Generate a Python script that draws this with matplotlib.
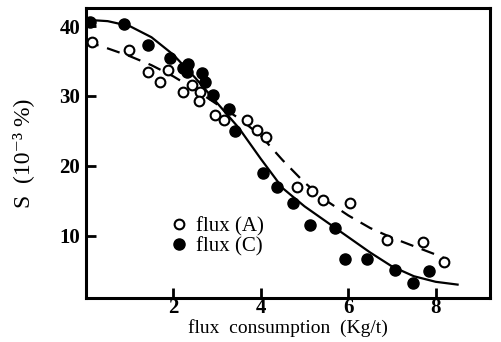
import numpy as np
import matplotlib
matplotlib.use("Agg")
import matplotlib.pyplot as plt
from matplotlib.lines import Line2D

# flux (A) measured points - open circles
xa = [0.14, 0.98, 1.42, 1.69, 1.88, 2.22, 2.43, 2.61, 2.59, 2.95, 3.16, 3.68, 3.91, 4.12,
      4.83, 5.17, 5.42, 6.04, 6.89, 7.70, 8.20]
ya = [37.7, 36.6, 33.4, 32.0, 33.7, 30.6, 31.6, 30.6, 29.3, 27.3, 26.6, 26.6, 25.1, 24.1,
      17.0, 16.4, 15.1, 14.7, 9.4, 9.1, 6.3]

# flux (C) measured points - filled circles
xc = [0.09, 0.87, 1.42, 1.92, 2.22, 2.33, 2.31, 2.65, 2.72, 2.91, 3.27, 3.41, 4.05, 4.37,
      4.74, 5.13, 5.70, 5.93, 6.43, 7.07, 7.48, 7.85]
yc = [40.6, 40.3, 37.3, 35.4, 34.0, 34.6, 33.4, 33.3, 32.0, 30.1, 28.1, 25.0, 19.0, 17.0,
      14.7, 11.6, 11.1, 6.6, 6.7, 5.1, 3.3, 4.9]

# fitted curves
fit_c_x = [0, 0.5, 1.0, 1.5, 2.0, 2.5, 3.0, 3.5, 4.0, 4.5, 5.0, 5.5, 6.0, 6.5, 7.0, 7.5, 8.0, 8.5]
fit_c_y = [40.9, 40.7, 40.0, 38.4, 35.9, 32.6, 29.0, 25.4, 21.0, 16.8, 14.2, 12.0, 9.8, 7.6,
           5.6, 4.2, 3.4, 3.0]
fit_a_x = [0, 0.5, 1.0, 1.5, 2.0, 2.5, 3.0, 3.5, 4.0, 4.5, 5.0, 5.5, 6.0, 6.5, 7.0, 7.5, 8.0, 8.2]
fit_a_y = [37.8, 36.8, 35.7, 34.4, 32.8, 30.9, 28.8, 26.8, 24.3, 20.8, 17.6, 15.0, 12.9, 11.1,
           9.7, 8.5, 7.3, 6.8]

xticks = [2, 4, 6, 8]
yticks = [10, 20, 30, 40]

serif = ['Liberation Serif', 'DejaVu Serif']

fig = plt.figure(figsize=(5.02, 3.42), dpi=100)
ax = fig.add_axes([0.171, 0.129, 0.805, 0.848])

ax.plot(fit_c_x, fit_c_y, '-', color='black', lw=1.6)
ax.plot(fit_a_x, fit_a_y, color='black', lw=1.6, dashes=(6, 4))
ax.plot(xa, ya, 'o', mfc='white', mec='black', mew=1.5, ms=7)
ax.plot(xc, yc, 'o', color='black', ms=8)

ax.set_xlim(0, 9.24)
ax.set_ylim(1.1, 42.6)
ax.set_xticks(xticks)
ax.set_yticks(yticks)
ax.tick_params(direction='in', length=7, width=2)
ax.tick_params(axis='x', pad=0)
ax.tick_params(axis='y', pad=4)
for lab in ax.get_xticklabels() + ax.get_yticklabels():
    lab.set_family(serif)
    lab.set_fontweight('bold')
    lab.set_fontsize(15)
for s in ax.spines.values():
    s.set_linewidth(2.2)

ax.set_xlabel('flux  consumption  (Kg/t)', family=serif, fontsize=14, labelpad=1)
ax.set_ylabel('S  (10⁻³ %)', family=serif, fontsize=17, labelpad=18)

handles = [Line2D([], [], ls='', marker='o', mfc='white', mec='black', mew=1.5, ms=7),
           Line2D([], [], ls='', marker='o', color='black', ms=8)]
ax.legend(handles, ['flux (A)', 'flux (C)'], loc='upper left', bbox_to_anchor=(0.185, 0.315),
          frameon=False, handletextpad=0.4, labelspacing=0.0, borderpad=0,
          handlelength=0.8, prop={'family': serif, 'size': 15})

fig.savefig('out.png', dpi=100)
